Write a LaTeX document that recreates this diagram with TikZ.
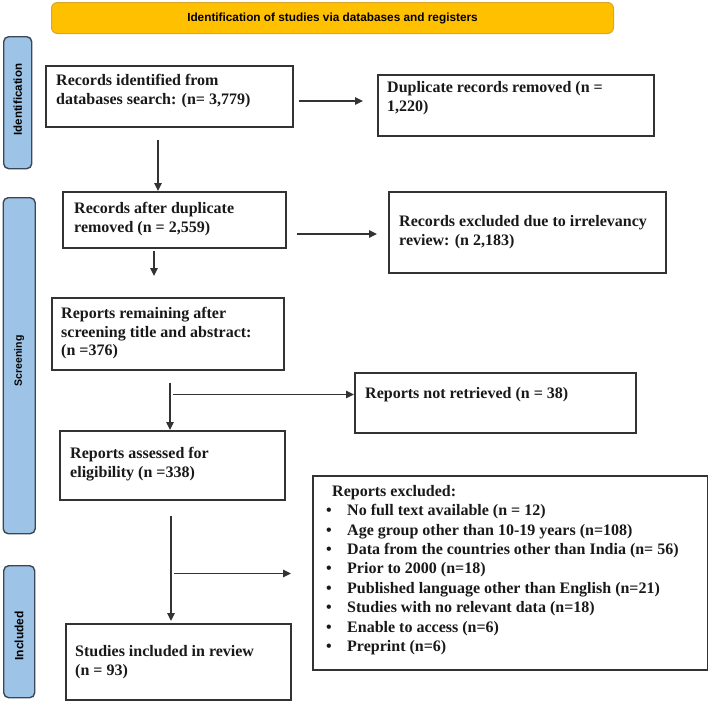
\documentclass[tikz,border=0pt]{standalone}
\usepackage{fontspec}
\setmainfont{Liberation Serif}
\newfontfamily\sidefont{Liberation Sans}
\usetikzlibrary{arrows.meta,calc}
\definecolor{titlefill}{HTML}{FFC000}
\definecolor{titledraw}{HTML}{D9A62E}
\definecolor{sidefill}{HTML}{9DC3E6}
\definecolor{sidedraw}{HTML}{3B4756}
\definecolor{boxline}{HTML}{333333}
\begin{document}
\begin{tikzpicture}[x=1pt,y=-1pt,
  box/.style={draw=boxline,line width=1.5pt,anchor=north west,inner sep=0pt,fill=white},
  txt/.style={anchor=north west,inner sep=0pt,align=left,text=black!90,
    font=\bfseries\fontsize{16}{18.7}\selectfont,
    execute at begin node={\rule{0pt}{12pt}}},
  listtxt/.style={txt,font=\bfseries\fontsize{16}{19.4}\selectfont},
  side/.style={draw=sidedraw,fill=sidefill,line width=1.4pt,rounded corners=5pt,anchor=north west,inner sep=0pt},
  sidetxt/.style={rotate=90,inner sep=0pt,font=\sidefont\bfseries},
  titlebox/.style={draw=titledraw,fill=titlefill,line width=1pt,rounded corners=6pt,anchor=north west,inner sep=0pt},
  arr/.style={draw=boxline,line width=1.4pt,-{Triangle[length=8pt,width=7.5pt]}}]
\useasboundingbox (0,0) rectangle (708,707);

% title
\node[titlebox,minimum width=562pt,minimum height=31pt] (title) at (51,2) {};
\node[inner sep=0pt,font=\sidefont\bfseries\fontsize{11.8}{14}\selectfont] (titletxt) at (title.center) {Identification of studies via databases and registers};

% side bars
\node[side,minimum width=28pt,minimum height=132pt] (s1) at (3,36) {};
\node[sidetxt,font=\sidefont\bfseries\fontsize{11.5}{13}\selectfont] (s1t) at ($(s1.center)+(0,-3)$) {Identification};
\node[side,minimum width=32pt,minimum height=336pt] (s2) at (2.5,197) {};
\node[sidetxt,font=\sidefont\bfseries\fontsize{10.5}{12}\selectfont] (s2t) at ($(s2.center)+(0,-5)$) {Screening};
\node[side,minimum width=31pt,minimum height=132pt] (s3) at (3,565) {};
\node[sidetxt,font=\sidefont\bfseries\fontsize{12}{14}\selectfont] (s3t) at ($(s3.center)+(0,4)$) {Included};

% boxes
\node[box,minimum width=247pt,minimum height=61pt] (b1) at (45,65) {};
\node[txt] (t1) at (56,74) {Records identified from\\databases search: (n= 3,779)};

\node[box,minimum width=276pt,minimum height=61pt] (b2) at (377,74) {};
\node[txt] (t2) at (387,81) {Duplicate records removed (n =\\1,220)};

\node[box,minimum width=223pt,minimum height=56pt] (b3) at (62,191) {};
\node[txt] (t3) at (74,202) {Records after duplicate\\removed (n = 2,559)};

\node[box,minimum width=277pt,minimum height=81pt] (b4) at (388,191) {};
\node[txt] (t4) at (399,215) {Records excluded due to irrelevancy\\review: (n 2,183)};

\node[box,minimum width=232pt,minimum height=72pt] (b5) at (51,297) {};
\node[txt] (t5) at (61,307) {Reports remaining after\\screening title and abstract:\\(n =376)};

\node[box,minimum width=281pt,minimum height=60pt] (b6) at (354,372) {};
\node[txt] (t6) at (365,386) {Reports not retrieved (n = 38)};

\node[box,minimum width=225pt,minimum height=69pt] (b7) at (59,430) {};
\node[txt] (t7) at (70,447) {Reports assessed for\\eligibility (n =338)};

\node[box,minimum width=395pt,minimum height=194pt] (b8) at (312,475) {};
\node[listtxt] (t8) at (326,485) {\hspace{6pt}Reports excluded:\\
\makebox[21pt][l]{\textbullet}No full text available (n = 12)\\
\makebox[21pt][l]{\textbullet}Age group other than 10-19 years (n=108)\\
\makebox[21pt][l]{\textbullet}Data from the countries other than India (n= 56)\\
\makebox[21pt][l]{\textbullet}Prior to 2000 (n=18)\\
\makebox[21pt][l]{\textbullet}Published language other than English (n=21)\\
\makebox[21pt][l]{\textbullet}Studies with no relevant data (n=18)\\
\makebox[21pt][l]{\textbullet}Enable to access (n=6)\\
\makebox[21pt][l]{\textbullet}Preprint (n=6)};

\node[box,minimum width=225pt,minimum height=76pt] (b9) at (65,623) {};
\node[txt] (t9) at (75,645) {Studies included in review\\(n = 93)};

% connectors
\draw[arr] ($(b1.north east)+(5,36)$) -- ($(b2.north west)+(-14,27)$);
\draw[arr] ($(b1.south west)+(113,12)$) -- ($(b3.north west)+(96,0)$);
\draw[arr] ($(b3.north east)+(10,43)$) -- ($(b4.north west)+(-11,43)$);
\draw[arr] ($(b3.south west)+(92,2)$) -- ($(b5.north west)+(103,-21)$);

\coordinate (j1) at ($(b5.south west)+(119,24)$);
\draw[arr] ($(b5.south west)+(119,12)$) -- ($(b7.north west)+(111,0)$);
\draw[arr] ($(j1)+(3,0)$) -- (b6.west |- j1);

\coordinate (j2) at ($(b7.south west)+(112,73)$);
\draw[arr] ($(b7.south west)+(112,15)$) -- ($(b9.north west)+(106,-2)$);
\draw[arr] ($(j2)+(3,0)$) -- ($(b8.west |- j2)+(-21,0)$);
\end{tikzpicture}
\end{document}
